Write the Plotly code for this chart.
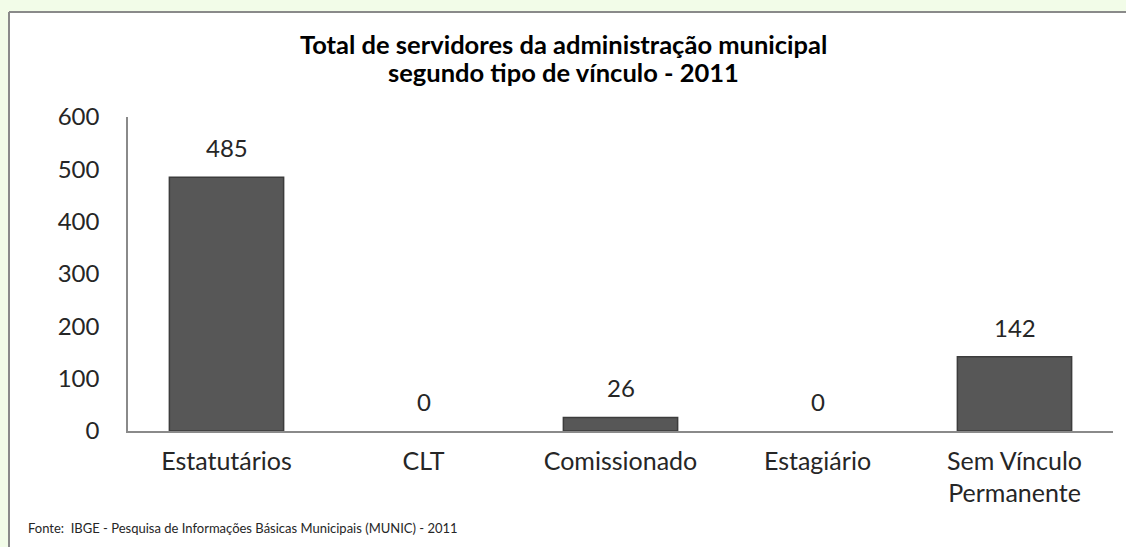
import plotly.graph_objects as go

categorias = ['Estatutários', 'CLT', 'Comissionado', 'Estagiário', 'Sem Vínculo<br>Permanente']
servidores = [485, 0, 26, 0, 142]
y_ticks = [0, 100, 200, 300, 400, 500, 600]
titulo = ['Total de servidores da administração municipal', 'segundo tipo de vínculo - 2011']
nota = 'Fonte:  IBGE - Pesquisa de Informações Básicas Municipais (MUNIC) - 2011'

W, H = 1126, 547
ml, mr, mt, mb = 128, 13, 117, 116
pw, ph = W - ml - mr, H - mt - mb


def px_x(p):
    return (p - ml) / pw


def px_y(p):
    return (H - mb - p) / ph


fonte = 'Lato, Calibri, sans-serif'

fig = go.Figure()
fig.add_trace(go.Bar(
    x=categorias, y=servidores, width=0.58,
    marker=dict(color='#575757',
                line=dict(color='#3c3c3c', width=[1.5 if v else 0 for v in servidores])),
    hoverinfo='x+y',
))

for c, v in zip(categorias, servidores):
    fig.add_annotation(x=c, y=v, text=str(v), showarrow=False,
                       yanchor='bottom', yshift=13,
                       font=dict(size=24, color='#262626', family=fonte))

# moldura branca do gráfico sobre o fundo verde (só as bordas esquerda e superior aparecem)
fig.add_shape(type='rect', xref='paper', yref='paper', layer='below',
              x0=px_x(9), x1=px_x(W), y0=px_y(H), y1=px_y(12),
              fillcolor='white', line=dict(width=0))
fig.add_shape(type='line', xref='paper', yref='paper', layer='below',
              x0=px_x(9), x1=px_x(W), y0=px_y(12), y1=px_y(12),
              line=dict(color='#8a8a8a', width=2))
fig.add_shape(type='line', xref='paper', yref='paper', layer='below',
              x0=px_x(9), x1=px_x(9), y0=px_y(12), y1=px_y(H),
              line=dict(color='#8a8a8a', width=2))

for linha, ypix in zip(titulo, [44, 72]):
    fig.add_annotation(text='<b>%s</b>' % linha, xref='paper', yref='paper',
                       x=px_x(563), y=px_y(ypix), xanchor='center', yanchor='middle',
                       showarrow=False, font=dict(size=25.5, color='#000000', family=fonte))

fig.add_annotation(
    text=nota, xref='paper', yref='paper', x=px_x(26), y=px_y(528),
    xanchor='left', yanchor='middle', showarrow=False,
    font=dict(size=13, color='#262626', family=fonte))

fig.update_layout(
    width=W, height=H,
    margin=dict(l=ml, r=mr, t=mt, b=mb),
    paper_bgcolor='#f2fce8', plot_bgcolor='rgba(0,0,0,0)',
    showlegend=False,
    font=dict(family=fonte, color='#262626'),
)
fig.update_xaxes(showline=True, linecolor='#8a8a8a', linewidth=1.5,
                 showgrid=False, ticks='', ticklabelstandoff=7,
                 tickfont=dict(size=25, color='#262626'))
fig.update_yaxes(range=[0, 600], tickvals=y_ticks, showline=True,
                 linecolor='#8a8a8a', linewidth=1.5, showgrid=False,
                 zeroline=False, ticks='', ticklabelstandoff=22,
                 tickfont=dict(size=24, color='#262626'))

fig.write_html('out.html', config={'displayModeBar': False},
               post_script="document.body.style.margin='0';")
